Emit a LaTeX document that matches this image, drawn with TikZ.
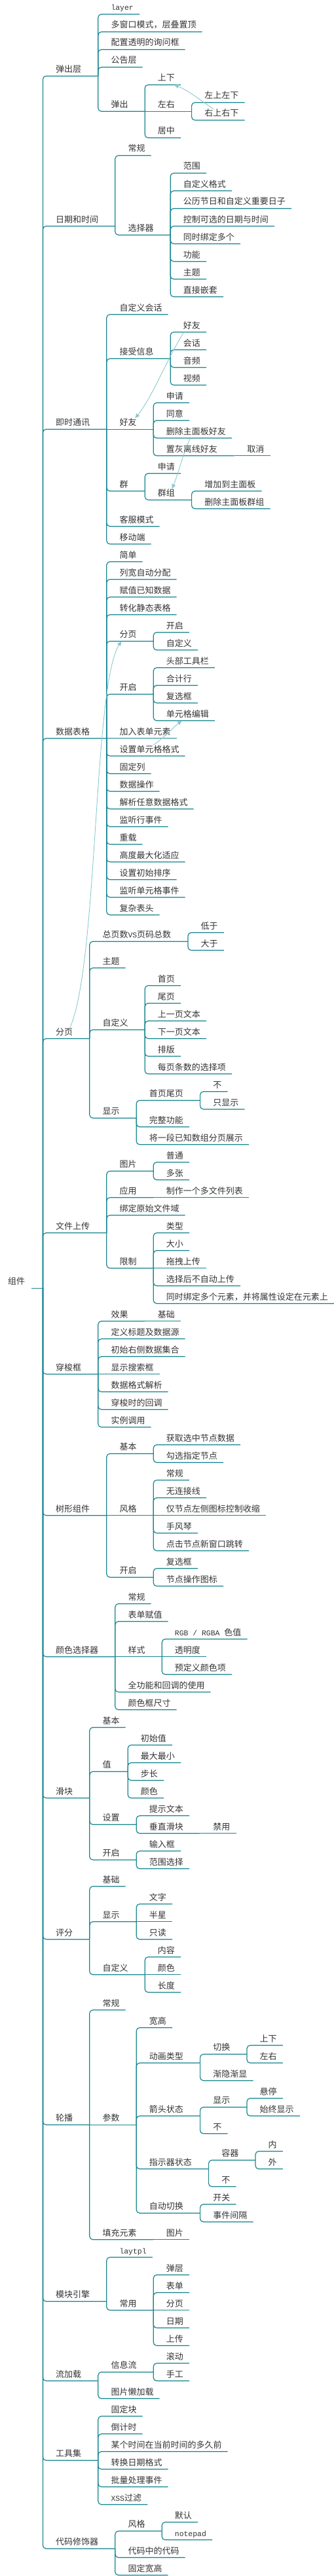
\documentclass[tikz,border=0pt]{standalone}
\usepackage{fontspec}
\setmainfont{Noto Sans CJK SC}
\newfontfamily\mono{Liberation Mono}[Scale=0.88]
\usepackage{tikz}
\usetikzlibrary{arrows.meta,calc}
\definecolor{branch}{RGB}{26,135,145}
\definecolor{relation}{RGB}{140,201,205}
\definecolor{ink}{RGB}{51,51,51}

\begin{document}
\begin{tikzpicture}[
    x=1pt, y=-27pt,
    root/.style={anchor=south west, inner sep=0pt, text height=11pt, text depth=5.5pt, text=ink, font=\fontsize{13}{13}\selectfont, execute at end node={\hspace{27pt}}},
    item/.style={anchor=south west, inner sep=0pt, text height=11pt, text depth=5.5pt, text=ink, font=\fontsize{13}{13}\selectfont, xshift=19.5pt},
    leaf/.style={item, execute at end node={\hspace{9pt}}},
    hub/.style={item, execute at end node={\hspace{25.5pt}}},
    conn/.style={draw=branch, line width=1.2pt, rounded corners=5pt},
    link/.style={draw=relation, line width=0.9pt, -{Triangle[length=7pt,width=6pt]}}
]
    \useasboundingbox (0,-0.8037) rectangle (509,145.048);

    \node [root] (root) at (12,72.13) {组件};

    \node [hub] (popup) at (root.south east |- 0,3.5) {弹出层};
    \node [hub] (datetime) at (root.south east |- 0,12) {日期和时间};
    \node [hub] (chat) at (root.south east |- 0,23.5) {即时通讯};
    \node [hub] (table) at (root.south east |- 0,41) {数据表格};
    \node [hub] (pager) at (root.south east |- 0,58) {分页};
    \node [hub] (upload) at (root.south east |- 0,69) {文件上传};
    \node [hub] (transfer) at (root.south east |- 0,77) {穿梭框};
    \node [hub] (tree) at (root.south east |- 0,85) {树形组件};
    \node [hub] (picker) at (root.south east |- 0,93) {颜色选择器};
    \node [hub] (slider) at (root.south east |- 0,101) {滑块};
    \node [hub] (rate) at (root.south east |- 0,109) {评分};
    \node [hub] (carousel) at (root.south east |- 0,119.5) {轮播};
    \node [hub] (engine) at (root.south east |- 0,129.5) {模块引擎};
    \node [hub] (flow) at (root.south east |- 0,134) {流加载};
    \node [hub] (util) at (root.south east |- 0,138.5) {工具集};
    \node [hub] (code) at (root.south east |- 0,143.5) {代码修饰器};

    \node [leaf] (pop-layer) at (popup.south east |- 0,0) {\mono layer};
    \node [leaf] (pop-multi) at (popup.south east |- 0,1) {多窗口模式，层叠置顶};
    \node [leaf] (pop-confirm) at (popup.south east |- 0,2) {配置透明的询问框};
    \node [leaf] (pop-notice) at (popup.south east |- 0,3) {公告层};
    \node [hub] (pop-out) at (popup.south east |- 0,5.5) {弹出};
    \node [leaf] (out-ud) at (pop-out.south east |- 0,4) {上下};
    \node [hub] (out-lr) at (pop-out.south east |- 0,5.5) {左右};
    \node [leaf] (out-mid) at (pop-out.south east |- 0,7) {居中};
    \node [leaf] (lr-left) at (out-lr.south east |- 0,5) {左上左下};
    \node [leaf] (lr-right) at (out-lr.south east |- 0,6) {右上右下};

    \node [leaf] (dt-basic) at (datetime.south east |- 0,8) {常规};
    \node [hub] (dt-select) at (datetime.south east |- 0,12.5) {选择器};
    \node [leaf] (sel-range) at (dt-select.south east |- 0,9) {范围};
    \node [leaf] (sel-format) at (dt-select.south east |- 0,10) {自定义格式};
    \node [leaf] (sel-holiday) at (dt-select.south east |- 0,11) {公历节日和自定义重要日子};
    \node [leaf] (sel-limit) at (dt-select.south east |- 0,12) {控制可选的日期与时间};
    \node [leaf] (sel-multi) at (dt-select.south east |- 0,13) {同时绑定多个};
    \node [leaf] (sel-func) at (dt-select.south east |- 0,14) {功能};
    \node [leaf] (sel-theme) at (dt-select.south east |- 0,15) {主题};
    \node [leaf] (sel-nest) at (dt-select.south east |- 0,16) {直接嵌套};

    \node [leaf] (chat-custom) at (chat.south east |- 0,17) {自定义会话};
    \node [hub] (chat-recv) at (chat.south east |- 0,19.5) {接受信息};
    \node [leaf] (recv-friend) at (chat-recv.south east |- 0,18) {好友};
    \node [leaf] (recv-chat) at (chat-recv.south east |- 0,19) {会话};
    \node [leaf] (recv-audio) at (chat-recv.south east |- 0,20) {音频};
    \node [leaf] (recv-video) at (chat-recv.south east |- 0,21) {视频};
    \node [hub] (chat-friend) at (chat.south east |- 0,23.5) {好友};
    \node [leaf] (fr-apply) at (chat-friend.south east |- 0,22) {申请};
    \node [leaf] (fr-agree) at (chat-friend.south east |- 0,23) {同意};
    \node [leaf] (fr-remove) at (chat-friend.south east |- 0,24) {删除主面板好友};
    \node [hub] (fr-gray) at (chat-friend.south east |- 0,25) {置灰离线好友};
    \node [leaf] (gray-cancel) at (fr-gray.south east |- 0,25) {取消};
    \node [hub] (chat-group) at (chat.south east |- 0,27) {群};
    \node [leaf] (grp-apply) at (chat-group.south east |- 0,26) {申请};
    \node [hub] (grp-set) at (chat-group.south east |- 0,27.5) {群组};
    \node [leaf] (gset-add) at (grp-set.south east |- 0,27) {增加到主面板};
    \node [leaf] (gset-remove) at (grp-set.south east |- 0,28) {删除主面板群组};
    \node [leaf] (chat-service) at (chat.south east |- 0,29) {客服模式};
    \node [leaf] (chat-mobile) at (chat.south east |- 0,30) {移动端};

    \node [leaf] (tb-simple) at (table.south east |- 0,31) {简单};
    \node [leaf] (tb-width) at (table.south east |- 0,32) {列宽自动分配};
    \node [leaf] (tb-assign) at (table.south east |- 0,33) {赋值已知数据};
    \node [leaf] (tb-static) at (table.south east |- 0,34) {转化静态表格};
    \node [hub] (tb-page) at (table.south east |- 0,35.5) {分页};
    \node [leaf] (tbp-on) at (tb-page.south east |- 0,35) {开启};
    \node [leaf] (tbp-custom) at (tb-page.south east |- 0,36) {自定义};
    \node [hub] (tb-open) at (table.south east |- 0,38.5) {开启};
    \node [leaf] (tbo-toolbar) at (tb-open.south east |- 0,37) {头部工具栏};
    \node [leaf] (tbo-total) at (tb-open.south east |- 0,38) {合计行};
    \node [leaf] (tbo-check) at (tb-open.south east |- 0,39) {复选框};
    \node [leaf] (tbo-edit) at (tb-open.south east |- 0,40) {单元格编辑};
    \node [leaf] (tb-form) at (table.south east |- 0,41) {加入表单元素};
    \node [leaf] (tb-cellfmt) at (table.south east |- 0,42) {设置单元格格式};
    \node [leaf] (tb-fixed) at (table.south east |- 0,43) {固定列};
    \node [leaf] (tb-data) at (table.south east |- 0,44) {数据操作};
    \node [leaf] (tb-parse) at (table.south east |- 0,45) {解析任意数据格式};
    \node [leaf] (tb-rowevent) at (table.south east |- 0,46) {监听行事件};
    \node [leaf] (tb-reload) at (table.south east |- 0,47) {重载};
    \node [leaf] (tb-height) at (table.south east |- 0,48) {高度最大化适应};
    \node [leaf] (tb-sort) at (table.south east |- 0,49) {设置初始排序};
    \node [leaf] (tb-cellevent) at (table.south east |- 0,50) {监听单元格事件};
    \node [leaf] (tb-header) at (table.south east |- 0,51) {复杂表头};

    \node [hub] (pg-total) at (pager.south east |- 0,52.5) {总页数{\mono VS}页码总数};
    \node [leaf] (tot-less) at (pg-total.south east |- 0,52) {低于};
    \node [leaf] (tot-more) at (pg-total.south east |- 0,53) {大于};
    \node [leaf] (pg-theme) at (pager.south east |- 0,54) {主题};
    \node [hub] (pg-custom) at (pager.south east |- 0,57.5) {自定义};
    \node [leaf] (cu-first) at (pg-custom.south east |- 0,55) {首页};
    \node [leaf] (cu-last) at (pg-custom.south east |- 0,56) {尾页};
    \node [leaf] (cu-prev) at (pg-custom.south east |- 0,57) {上一页文本};
    \node [leaf] (cu-next) at (pg-custom.south east |- 0,58) {下一页文本};
    \node [leaf] (cu-layout) at (pg-custom.south east |- 0,59) {排版};
    \node [leaf] (cu-limits) at (pg-custom.south east |- 0,60) {每页条数的选择项};
    \node [hub] (pg-show) at (pager.south east |- 0,62.5) {显示};
    \node [hub] (show-ends) at (pg-show.south east |- 0,61.5) {首页尾页};
    \node [leaf] (ends-no) at (show-ends.south east |- 0,61) {不};
    \node [leaf] (ends-only) at (show-ends.south east |- 0,62) {只显示};
    \node [leaf] (show-full) at (pg-show.south east |- 0,63) {完整功能};
    \node [leaf] (show-array) at (pg-show.south east |- 0,64) {将一段已知数组分页展示};

    \node [hub] (up-image) at (upload.south east |- 0,65.5) {图片};
    \node [leaf] (img-plain) at (up-image.south east |- 0,65) {普通};
    \node [leaf] (img-multi) at (up-image.south east |- 0,66) {多张};
    \node [hub] (up-app) at (upload.south east |- 0,67) {应用};
    \node [leaf] (app-list) at (up-app.south east |- 0,67) {制作一个多文件列表};
    \node [leaf] (up-bind) at (upload.south east |- 0,68) {绑定原始文件域};
    \node [hub] (up-limit) at (upload.south east |- 0,71) {限制};
    \node [leaf] (lim-type) at (up-limit.south east |- 0,69) {类型};
    \node [leaf] (lim-size) at (up-limit.south east |- 0,70) {大小};
    \node [leaf] (lim-drag) at (up-limit.south east |- 0,71) {拖拽上传};
    \node [leaf] (lim-manual) at (up-limit.south east |- 0,72) {选择后不自动上传};
    \node [leaf] (lim-bind) at (up-limit.south east |- 0,73) {同时绑定多个元素，并将属性设定在元素上};

    \node [hub] (tf-effect) at (transfer.south east |- 0,74) {效果};
    \node [leaf] (eff-basic) at (tf-effect.south east |- 0,74) {基础};
    \node [leaf] (tf-source) at (transfer.south east |- 0,75) {定义标题及数据源};
    \node [leaf] (tf-right) at (transfer.south east |- 0,76) {初始右侧数据集合};
    \node [leaf] (tf-search) at (transfer.south east |- 0,77) {显示搜索框};
    \node [leaf] (tf-parse) at (transfer.south east |- 0,78) {数据格式解析};
    \node [leaf] (tf-callback) at (transfer.south east |- 0,79) {穿梭时的回调};
    \node [leaf] (tf-instance) at (transfer.south east |- 0,80) {实例调用};

    \node [hub] (tr-basic) at (tree.south east |- 0,81.5) {基本};
    \node [leaf] (trb-get) at (tr-basic.south east |- 0,81) {获取选中节点数据};
    \node [leaf] (trb-check) at (tr-basic.south east |- 0,82) {勾选指定节点};
    \node [hub] (tr-style) at (tree.south east |- 0,85) {风格};
    \node [leaf] (trs-plain) at (tr-style.south east |- 0,83) {常规};
    \node [leaf] (trs-noline) at (tr-style.south east |- 0,84) {无连接线};
    \node [leaf] (trs-icon) at (tr-style.south east |- 0,85) {仅节点左侧图标控制收缩};
    \node [leaf] (trs-accordion) at (tr-style.south east |- 0,86) {手风琴};
    \node [leaf] (trs-jump) at (tr-style.south east |- 0,87) {点击节点新窗口跳转};
    \node [hub] (tr-open) at (tree.south east |- 0,88.5) {开启};
    \node [leaf] (tro-check) at (tr-open.south east |- 0,88) {复选框};
    \node [leaf] (tro-icon) at (tr-open.south east |- 0,89) {节点操作图标};

    \node [leaf] (cp-basic) at (picker.south east |- 0,90) {常规};
    \node [leaf] (cp-form) at (picker.south east |- 0,91) {表单赋值};
    \node [hub] (cp-style) at (picker.south east |- 0,93) {样式};
    \node [leaf] (cps-rgb) at (cp-style.south east |- 0,92) {{\mono RGB / RGBA }色值};
    \node [leaf] (cps-alpha) at (cp-style.south east |- 0,93) {透明度};
    \node [leaf] (cps-preset) at (cp-style.south east |- 0,94) {预定义颜色项};
    \node [leaf] (cp-full) at (picker.south east |- 0,95) {全功能和回调的使用};
    \node [leaf] (cp-size) at (picker.south east |- 0,96) {颜色框尺寸};

    \node [leaf] (sl-basic) at (slider.south east |- 0,97) {基本};
    \node [hub] (sl-value) at (slider.south east |- 0,99.5) {值};
    \node [leaf] (val-init) at (sl-value.south east |- 0,98) {初始值};
    \node [leaf] (val-range) at (sl-value.south east |- 0,99) {最大最小};
    \node [leaf] (val-step) at (sl-value.south east |- 0,100) {步长};
    \node [leaf] (val-color) at (sl-value.south east |- 0,101) {颜色};
    \node [hub] (sl-set) at (slider.south east |- 0,102.5) {设置};
    \node [leaf] (sls-tip) at (sl-set.south east |- 0,102) {提示文本};
    \node [hub] (sls-vertical) at (sl-set.south east |- 0,103) {垂直滑块};
    \node [leaf] (vert-off) at (sls-vertical.south east |- 0,103) {禁用};
    \node [hub] (sl-open) at (slider.south east |- 0,104.5) {开启};
    \node [leaf] (slo-input) at (sl-open.south east |- 0,104) {输入框};
    \node [leaf] (slo-range) at (sl-open.south east |- 0,105) {范围选择};

    \node [leaf] (rt-basic) at (rate.south east |- 0,106) {基础};
    \node [hub] (rt-show) at (rate.south east |- 0,108) {显示};
    \node [leaf] (rts-text) at (rt-show.south east |- 0,107) {文字};
    \node [leaf] (rts-half) at (rt-show.south east |- 0,108) {半星};
    \node [leaf] (rts-read) at (rt-show.south east |- 0,109) {只读};
    \node [hub] (rt-custom) at (rate.south east |- 0,111) {自定义};
    \node [leaf] (rtc-content) at (rt-custom.south east |- 0,110) {内容};
    \node [leaf] (rtc-color) at (rt-custom.south east |- 0,111) {颜色};
    \node [leaf] (rtc-length) at (rt-custom.south east |- 0,112) {长度};

    \node [leaf] (cr-basic) at (carousel.south east |- 0,113) {常规};
    \node [hub] (cr-param) at (carousel.south east |- 0,119.5) {参数};
    \node [leaf] (pm-size) at (cr-param.south east |- 0,114) {宽高};
    \node [hub] (pm-anim) at (cr-param.south east |- 0,116) {动画类型};
    \node [hub] (anim-switch) at (pm-anim.south east |- 0,115.5) {切换};
    \node [leaf] (sw-ud) at (anim-switch.south east |- 0,115) {上下};
    \node [leaf] (sw-lr) at (anim-switch.south east |- 0,116) {左右};
    \node [leaf] (anim-fade) at (pm-anim.south east |- 0,117) {渐隐渐显};
    \node [hub] (pm-arrow) at (cr-param.south east |- 0,119) {箭头状态};
    \node [hub] (arr-show) at (pm-arrow.south east |- 0,118.5) {显示};
    \node [leaf] (ash-hover) at (arr-show.south east |- 0,118) {悬停};
    \node [leaf] (ash-always) at (arr-show.south east |- 0,119) {始终显示};
    \node [leaf] (arr-none) at (pm-arrow.south east |- 0,120) {不};
    \node [hub] (pm-dots) at (cr-param.south east |- 0,122) {指示器状态};
    \node [hub] (dots-box) at (pm-dots.south east |- 0,121.5) {容器};
    \node [leaf] (box-in) at (dots-box.south east |- 0,121) {内};
    \node [leaf] (box-out) at (dots-box.south east |- 0,122) {外};
    \node [leaf] (dots-none) at (pm-dots.south east |- 0,123) {不};
    \node [hub] (pm-auto) at (cr-param.south east |- 0,124.5) {自动切换};
    \node [leaf] (auto-on) at (pm-auto.south east |- 0,124) {开关};
    \node [leaf] (auto-gap) at (pm-auto.south east |- 0,125) {事件间隔};
    \node [hub] (cr-fill) at (carousel.south east |- 0,126) {填充元素};
    \node [leaf] (fill-image) at (cr-fill.south east |- 0,126) {图片};

    \node [leaf] (en-laytpl) at (engine.south east |- 0,127) {\mono laytpl};
    \node [hub] (en-common) at (engine.south east |- 0,130) {常用};
    \node [leaf] (cm-layer) at (en-common.south east |- 0,128) {弹层};
    \node [leaf] (cm-form) at (en-common.south east |- 0,129) {表单};
    \node [leaf] (cm-page) at (en-common.south east |- 0,130) {分页};
    \node [leaf] (cm-date) at (en-common.south east |- 0,131) {日期};
    \node [leaf] (cm-upload) at (en-common.south east |- 0,132) {上传};

    \node [hub] (fl-info) at (flow.south east |- 0,133.5) {信息流};
    \node [leaf] (info-scroll) at (fl-info.south east |- 0,133) {滚动};
    \node [leaf] (info-manual) at (fl-info.south east |- 0,134) {手工};
    \node [leaf] (fl-lazy) at (flow.south east |- 0,135) {图片懒加载};

    \node [leaf] (ut-fixbar) at (util.south east |- 0,136) {固定块};
    \node [leaf] (ut-countdown) at (util.south east |- 0,137) {倒计时};
    \node [leaf] (ut-timeago) at (util.south east |- 0,138) {某个时间在当前时间的多久前};
    \node [leaf] (ut-dateformat) at (util.south east |- 0,139) {转换日期格式};
    \node [leaf] (ut-batch) at (util.south east |- 0,140) {批量处理事件};
    \node [leaf] (ut-xss) at (util.south east |- 0,141) {{\mono XSS}过滤};

    \node [hub] (cd-skin) at (code.south east |- 0,142.5) {风格};
    \node [leaf] (skin-default) at (cd-skin.south east |- 0,142) {默认};
    \node [leaf] (skin-notepad) at (cd-skin.south east |- 0,143) {\mono notepad};
    \node [leaf] (cd-nested) at (code.south east |- 0,144) {代码中的代码};
    \node [leaf] (cd-fixed) at (code.south east |- 0,145) {固定宽高};

    \path [conn] ([xshift=-17pt]root.south east) -- (root.south east);
    \path [conn] (root.south east) |- (popup.south east);
    \path [conn] (root.south east) |- (datetime.south east);
    \path [conn] (root.south east) |- (chat.south east);
    \path [conn] (root.south east) |- (table.south east);
    \path [conn] (root.south east) |- (pager.south east);
    \path [conn] (root.south east) |- (upload.south east);
    \path [conn] (root.south east) |- (transfer.south east);
    \path [conn] (root.south east) |- (tree.south east);
    \path [conn] (root.south east) |- (picker.south east);
    \path [conn] (root.south east) |- (slider.south east);
    \path [conn] (root.south east) |- (rate.south east);
    \path [conn] (root.south east) |- (carousel.south east);
    \path [conn] (root.south east) |- (engine.south east);
    \path [conn] (root.south east) |- (flow.south east);
    \path [conn] (root.south east) |- (util.south east);
    \path [conn] (root.south east) |- (code.south east);

    \path [conn] (popup.south east) |- (pop-layer.south east);
    \path [conn] (popup.south east) |- (pop-multi.south east);
    \path [conn] (popup.south east) |- (pop-confirm.south east);
    \path [conn] (popup.south east) |- (pop-notice.south east);
    \path [conn] (popup.south east) |- (pop-out.south east);
    \path [conn] (pop-out.south east) |- (out-ud.south east);
    \path [conn] (pop-out.south east) -- (out-lr.south east);
    \path [conn] (pop-out.south east) |- (out-mid.south east);
    \path [conn] (out-lr.south east) |- (lr-left.south east);
    \path [conn] (out-lr.south east) |- (lr-right.south east);

    \path [conn] (datetime.south east) |- (dt-basic.south east);
    \path [conn] (datetime.south east) |- (dt-select.south east);
    \path [conn] (dt-select.south east) |- (sel-range.south east);
    \path [conn] (dt-select.south east) |- (sel-format.south east);
    \path [conn] (dt-select.south east) |- (sel-holiday.south east);
    \path [conn] (dt-select.south east) |- (sel-limit.south east);
    \path [conn] (dt-select.south east) |- (sel-multi.south east);
    \path [conn] (dt-select.south east) |- (sel-func.south east);
    \path [conn] (dt-select.south east) |- (sel-theme.south east);
    \path [conn] (dt-select.south east) |- (sel-nest.south east);

    \path [conn] (chat.south east) |- (chat-custom.south east);
    \path [conn] (chat.south east) |- (chat-recv.south east);
    \path [conn] (chat-recv.south east) |- (recv-friend.south east);
    \path [conn] (chat-recv.south east) |- (recv-chat.south east);
    \path [conn] (chat-recv.south east) |- (recv-audio.south east);
    \path [conn] (chat-recv.south east) |- (recv-video.south east);
    \path [conn] (chat.south east) -- (chat-friend.south east);
    \path [conn] (chat-friend.south east) |- (fr-apply.south east);
    \path [conn] (chat-friend.south east) |- (fr-agree.south east);
    \path [conn] (chat-friend.south east) |- (fr-remove.south east);
    \path [conn] (chat-friend.south east) |- (fr-gray.south east);
    \path [conn] (fr-gray.south east) -- (gray-cancel.south east);
    \path [conn] (chat.south east) |- (chat-group.south east);
    \path [conn] (chat-group.south east) |- (grp-apply.south east);
    \path [conn] (chat-group.south east) |- (grp-set.south east);
    \path [conn] (grp-set.south east) |- (gset-add.south east);
    \path [conn] (grp-set.south east) |- (gset-remove.south east);
    \path [conn] (chat.south east) |- (chat-service.south east);
    \path [conn] (chat.south east) |- (chat-mobile.south east);

    \path [conn] (table.south east) |- (tb-simple.south east);
    \path [conn] (table.south east) |- (tb-width.south east);
    \path [conn] (table.south east) |- (tb-assign.south east);
    \path [conn] (table.south east) |- (tb-static.south east);
    \path [conn] (table.south east) |- (tb-page.south east);
    \path [conn] (tb-page.south east) |- (tbp-on.south east);
    \path [conn] (tb-page.south east) |- (tbp-custom.south east);
    \path [conn] (table.south east) |- (tb-open.south east);
    \path [conn] (tb-open.south east) |- (tbo-toolbar.south east);
    \path [conn] (tb-open.south east) |- (tbo-total.south east);
    \path [conn] (tb-open.south east) |- (tbo-check.south east);
    \path [conn] (tb-open.south east) |- (tbo-edit.south east);
    \path [conn] (table.south east) -- (tb-form.south east);
    \path [conn] (table.south east) |- (tb-cellfmt.south east);
    \path [conn] (table.south east) |- (tb-fixed.south east);
    \path [conn] (table.south east) |- (tb-data.south east);
    \path [conn] (table.south east) |- (tb-parse.south east);
    \path [conn] (table.south east) |- (tb-rowevent.south east);
    \path [conn] (table.south east) |- (tb-reload.south east);
    \path [conn] (table.south east) |- (tb-height.south east);
    \path [conn] (table.south east) |- (tb-sort.south east);
    \path [conn] (table.south east) |- (tb-cellevent.south east);
    \path [conn] (table.south east) |- (tb-header.south east);

    \path [conn] (pager.south east) |- (pg-total.south east);
    \path [conn] (pg-total.south east) |- (tot-less.south east);
    \path [conn] (pg-total.south east) |- (tot-more.south east);
    \path [conn] (pager.south east) |- (pg-theme.south east);
    \path [conn] (pager.south east) |- (pg-custom.south east);
    \path [conn] (pg-custom.south east) |- (cu-first.south east);
    \path [conn] (pg-custom.south east) |- (cu-last.south east);
    \path [conn] (pg-custom.south east) |- (cu-prev.south east);
    \path [conn] (pg-custom.south east) |- (cu-next.south east);
    \path [conn] (pg-custom.south east) |- (cu-layout.south east);
    \path [conn] (pg-custom.south east) |- (cu-limits.south east);
    \path [conn] (pager.south east) |- (pg-show.south east);
    \path [conn] (pg-show.south east) |- (show-ends.south east);
    \path [conn] (show-ends.south east) |- (ends-no.south east);
    \path [conn] (show-ends.south east) |- (ends-only.south east);
    \path [conn] (pg-show.south east) |- (show-full.south east);
    \path [conn] (pg-show.south east) |- (show-array.south east);

    \path [conn] (upload.south east) |- (up-image.south east);
    \path [conn] (up-image.south east) |- (img-plain.south east);
    \path [conn] (up-image.south east) |- (img-multi.south east);
    \path [conn] (upload.south east) |- (up-app.south east);
    \path [conn] (up-app.south east) -- (app-list.south east);
    \path [conn] (upload.south east) |- (up-bind.south east);
    \path [conn] (upload.south east) |- (up-limit.south east);
    \path [conn] (up-limit.south east) |- (lim-type.south east);
    \path [conn] (up-limit.south east) |- (lim-size.south east);
    \path [conn] (up-limit.south east) -- (lim-drag.south east);
    \path [conn] (up-limit.south east) |- (lim-manual.south east);
    \path [conn] (up-limit.south east) |- (lim-bind.south east);

    \path [conn] (transfer.south east) |- (tf-effect.south east);
    \path [conn] (tf-effect.south east) -- (eff-basic.south east);
    \path [conn] (transfer.south east) |- (tf-source.south east);
    \path [conn] (transfer.south east) |- (tf-right.south east);
    \path [conn] (transfer.south east) -- (tf-search.south east);
    \path [conn] (transfer.south east) |- (tf-parse.south east);
    \path [conn] (transfer.south east) |- (tf-callback.south east);
    \path [conn] (transfer.south east) |- (tf-instance.south east);

    \path [conn] (tree.south east) |- (tr-basic.south east);
    \path [conn] (tr-basic.south east) |- (trb-get.south east);
    \path [conn] (tr-basic.south east) |- (trb-check.south east);
    \path [conn] (tree.south east) -- (tr-style.south east);
    \path [conn] (tr-style.south east) |- (trs-plain.south east);
    \path [conn] (tr-style.south east) |- (trs-noline.south east);
    \path [conn] (tr-style.south east) -- (trs-icon.south east);
    \path [conn] (tr-style.south east) |- (trs-accordion.south east);
    \path [conn] (tr-style.south east) |- (trs-jump.south east);
    \path [conn] (tree.south east) |- (tr-open.south east);
    \path [conn] (tr-open.south east) |- (tro-check.south east);
    \path [conn] (tr-open.south east) |- (tro-icon.south east);

    \path [conn] (picker.south east) |- (cp-basic.south east);
    \path [conn] (picker.south east) |- (cp-form.south east);
    \path [conn] (picker.south east) -- (cp-style.south east);
    \path [conn] (cp-style.south east) |- (cps-rgb.south east);
    \path [conn] (cp-style.south east) -- (cps-alpha.south east);
    \path [conn] (cp-style.south east) |- (cps-preset.south east);
    \path [conn] (picker.south east) |- (cp-full.south east);
    \path [conn] (picker.south east) |- (cp-size.south east);

    \path [conn] (slider.south east) |- (sl-basic.south east);
    \path [conn] (slider.south east) |- (sl-value.south east);
    \path [conn] (sl-value.south east) |- (val-init.south east);
    \path [conn] (sl-value.south east) |- (val-range.south east);
    \path [conn] (sl-value.south east) |- (val-step.south east);
    \path [conn] (sl-value.south east) |- (val-color.south east);
    \path [conn] (slider.south east) |- (sl-set.south east);
    \path [conn] (sl-set.south east) |- (sls-tip.south east);
    \path [conn] (sl-set.south east) |- (sls-vertical.south east);
    \path [conn] (sls-vertical.south east) -- (vert-off.south east);
    \path [conn] (slider.south east) |- (sl-open.south east);
    \path [conn] (sl-open.south east) |- (slo-input.south east);
    \path [conn] (sl-open.south east) |- (slo-range.south east);

    \path [conn] (rate.south east) |- (rt-basic.south east);
    \path [conn] (rate.south east) |- (rt-show.south east);
    \path [conn] (rt-show.south east) |- (rts-text.south east);
    \path [conn] (rt-show.south east) -- (rts-half.south east);
    \path [conn] (rt-show.south east) |- (rts-read.south east);
    \path [conn] (rate.south east) |- (rt-custom.south east);
    \path [conn] (rt-custom.south east) |- (rtc-content.south east);
    \path [conn] (rt-custom.south east) -- (rtc-color.south east);
    \path [conn] (rt-custom.south east) |- (rtc-length.south east);

    \path [conn] (carousel.south east) |- (cr-basic.south east);
    \path [conn] (carousel.south east) -- (cr-param.south east);
    \path [conn] (cr-param.south east) |- (pm-size.south east);
    \path [conn] (cr-param.south east) |- (pm-anim.south east);
    \path [conn] (pm-anim.south east) |- (anim-switch.south east);
    \path [conn] (anim-switch.south east) |- (sw-ud.south east);
    \path [conn] (anim-switch.south east) |- (sw-lr.south east);
    \path [conn] (pm-anim.south east) |- (anim-fade.south east);
    \path [conn] (cr-param.south east) |- (pm-arrow.south east);
    \path [conn] (pm-arrow.south east) |- (arr-show.south east);
    \path [conn] (arr-show.south east) |- (ash-hover.south east);
    \path [conn] (arr-show.south east) |- (ash-always.south east);
    \path [conn] (pm-arrow.south east) |- (arr-none.south east);
    \path [conn] (cr-param.south east) |- (pm-dots.south east);
    \path [conn] (pm-dots.south east) |- (dots-box.south east);
    \path [conn] (dots-box.south east) |- (box-in.south east);
    \path [conn] (dots-box.south east) |- (box-out.south east);
    \path [conn] (pm-dots.south east) |- (dots-none.south east);
    \path [conn] (cr-param.south east) |- (pm-auto.south east);
    \path [conn] (pm-auto.south east) |- (auto-on.south east);
    \path [conn] (pm-auto.south east) |- (auto-gap.south east);
    \path [conn] (carousel.south east) |- (cr-fill.south east);
    \path [conn] (cr-fill.south east) -- (fill-image.south east);

    \path [conn] (engine.south east) |- (en-laytpl.south east);
    \path [conn] (engine.south east) |- (en-common.south east);
    \path [conn] (en-common.south east) |- (cm-layer.south east);
    \path [conn] (en-common.south east) |- (cm-form.south east);
    \path [conn] (en-common.south east) -- (cm-page.south east);
    \path [conn] (en-common.south east) |- (cm-date.south east);
    \path [conn] (en-common.south east) |- (cm-upload.south east);

    \path [conn] (flow.south east) |- (fl-info.south east);
    \path [conn] (fl-info.south east) |- (info-scroll.south east);
    \path [conn] (fl-info.south east) |- (info-manual.south east);
    \path [conn] (flow.south east) |- (fl-lazy.south east);

    \path [conn] (util.south east) |- (ut-fixbar.south east);
    \path [conn] (util.south east) |- (ut-countdown.south east);
    \path [conn] (util.south east) |- (ut-timeago.south east);
    \path [conn] (util.south east) |- (ut-dateformat.south east);
    \path [conn] (util.south east) |- (ut-batch.south east);
    \path [conn] (util.south east) |- (ut-xss.south east);

    \path [conn] (code.south east) |- (cd-skin.south east);
    \path [conn] (cd-skin.south east) |- (skin-default.south east);
    \path [conn] (cd-skin.south east) |- (skin-notepad.south east);
    \path [conn] (code.south east) |- (cd-nested.south east);
    \path [conn] (code.south east) |- (cd-fixed.south east);

    \path [link] ([xshift=14pt]lr-right.north west) .. controls ($(lr-right.north west)+(-1pt,10pt)$) and ($(out-ud.south west)+(46pt,-8pt)$) .. ([xshift=25pt]out-ud.south west);
    \path [link] ([xshift=1pt]recv-friend.south west) .. controls ($(recv-friend.south west)+(-24pt,-40pt)$) and ($(chat-friend.north west)+(49pt,30pt)$) .. ([xshift=24pt]chat-friend.north west);
    \path [link] ([xshift=37pt]fr-remove.south west) .. controls ($(fr-remove.south west)+(27pt,-20pt)$) and ($(grp-set.north west)+(32pt,25pt)$) .. ([xshift=22pt]grp-set.north west);
    \path [link] ([xshift=52pt]tb-cellfmt.north west) .. controls ($(tb-cellfmt.north west)+(67pt,10pt)$) and ($(tbo-edit.south west)+(9pt,-12pt)$) .. ([xshift=24pt]tbo-edit.south west);
    \path [link] ([xshift=22pt]pager.north west) .. controls ($(pager.north west)+(65pt,97pt)$) and ($(tb-page.south west)+(-40pt,-68pt)$) .. ([xshift=3pt]tb-page.south west);
\end{tikzpicture}
\end{document}
